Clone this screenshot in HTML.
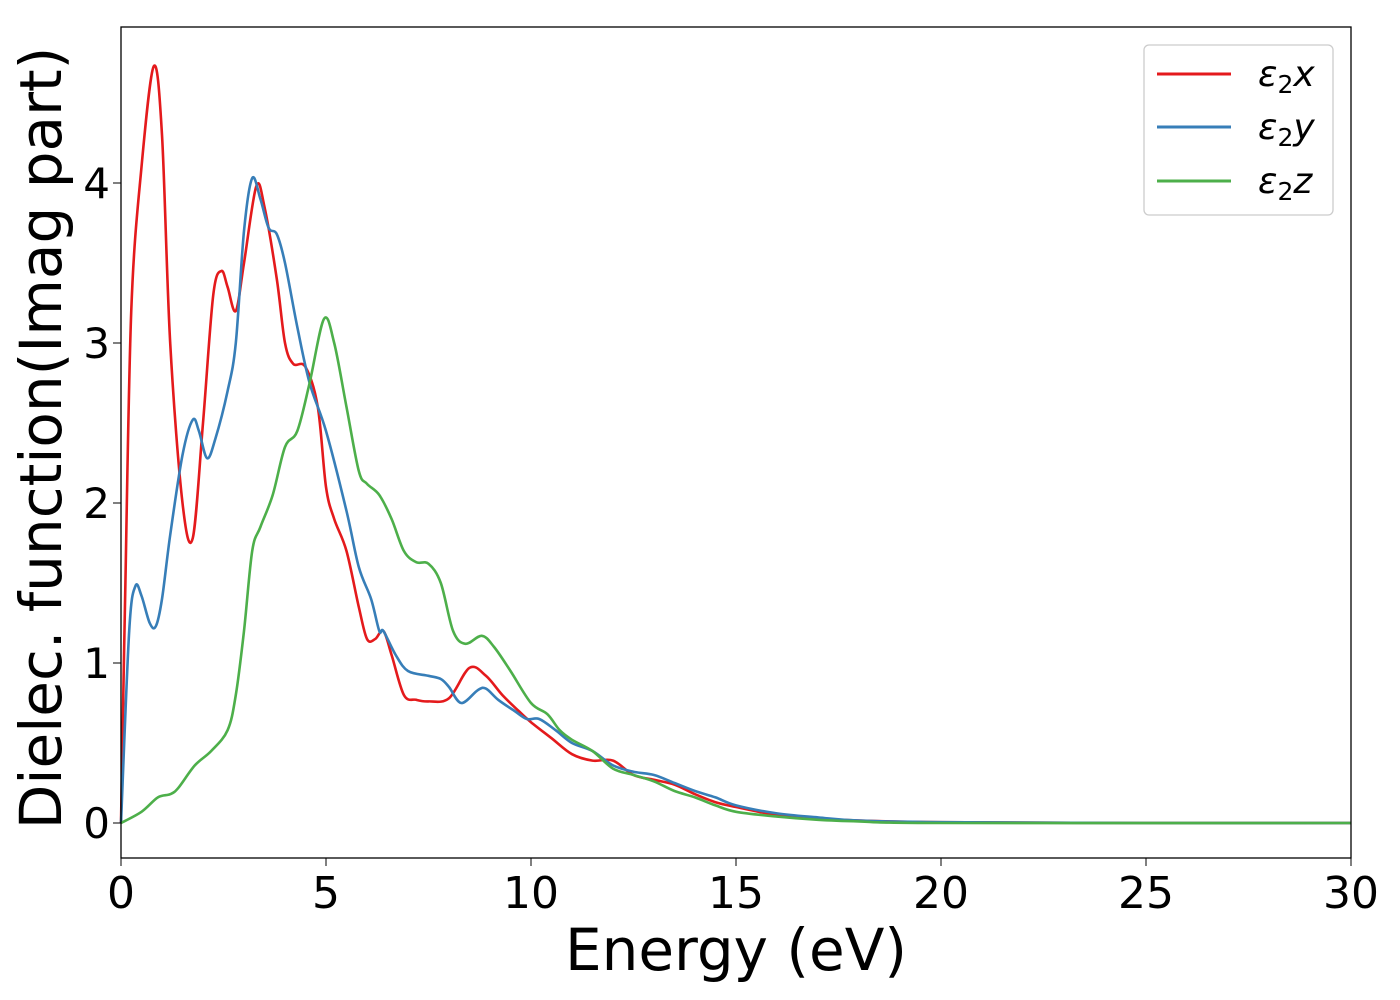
<!DOCTYPE html>
<html><head><meta charset="utf-8"><style>
html,body{margin:0;padding:0;background:#fff;}
svg{display:block;font-family:"DejaVu Sans","Liberation Sans",sans-serif;}
</style></head><body>
<svg id="chart" width="1400" height="1000" viewBox="0 0 1400 1000">
<rect x="0" y="0" width="1400" height="1000" fill="#fff"/>
<g id="series"></g>
<rect x="121" y="27" width="1230" height="831" fill="none" stroke="#000" stroke-width="1.3"/>
<g id="xticks"></g><g id="yticks"></g>
<text x="736" y="970" font-size="58" text-anchor="middle">Energy (eV)</text>
<text transform="translate(61,438) rotate(-90)" font-size="58" text-anchor="middle">Dielec. function(Imag part)</text>
<g>
<rect x="1144" y="45" width="189" height="170" rx="5" fill="#fff" fill-opacity="0.8" stroke="#ccc" stroke-width="1.3"/>
<g><line x1="1157" y1="74" x2="1231" y2="74" stroke="#e41a1c" stroke-width="3"/><text x="1258" y="86" font-size="36" font-style="italic">ε<tspan font-size="25" dy="7" font-style="normal">2</tspan><tspan dy="-7">x</tspan></text></g>
<g><line x1="1157" y1="127" x2="1231" y2="127" stroke="#377eb8" stroke-width="3"/><text x="1258" y="139" font-size="36" font-style="italic">ε<tspan font-size="25" dy="7" font-style="normal">2</tspan><tspan dy="-7">y</tspan></text></g>
<g><line x1="1157" y1="181" x2="1231" y2="181" stroke="#4daf4a" stroke-width="3"/><text x="1258" y="193" font-size="36" font-style="italic">ε<tspan font-size="25" dy="7" font-style="normal">2</tspan><tspan dy="-7">z</tspan></text></g>
</g>
</svg>
<script>
const xTicks=[0,5,10,15,20,25,30];
const yTicks=[0,1,2,3,4];
const seriesX=[[0,0],[0.1,1.4],[0.25,3.2],[0.5,4.1],[0.8,4.73],[1.0,4.3],[1.2,3.0],[1.5,2.0],[1.75,1.78],[2.0,2.5],[2.25,3.3],[2.45,3.45],[2.6,3.35],[2.8,3.2],[3.0,3.5],[3.3,3.98],[3.5,3.85],[3.8,3.4],[4.0,3.0],[4.2,2.87],[4.5,2.85],[4.8,2.6],[5.0,2.1],[5.2,1.9],[5.5,1.7],[5.8,1.35],[6.0,1.15],[6.2,1.15],[6.4,1.2],[6.6,1.05],[6.9,0.8],[7.2,0.77],[7.5,0.76],[8.0,0.78],[8.5,0.97],[8.9,0.92],[9.3,0.8],[9.7,0.7],[10,0.63],[10.5,0.53],[11,0.43],[11.5,0.39],[12,0.39],[12.5,0.3],[13,0.27],[13.5,0.24],[14,0.18],[14.5,0.13],[15,0.1],[16,0.05],[17,0.03],[18,0.015],[20,0.005],[25,0],[30,0]];
const seriesY=[[0,0],[0.2,1.2],[0.35,1.48],[0.5,1.42],[0.7,1.25],[0.85,1.23],[1.0,1.4],[1.2,1.8],[1.5,2.3],[1.75,2.52],[1.9,2.45],[2.1,2.28],[2.3,2.4],[2.6,2.7],[2.8,3.0],[3.0,3.7],[3.2,4.03],[3.4,3.9],[3.6,3.72],[3.8,3.68],[4.0,3.5],[4.3,3.1],[4.6,2.75],[5.0,2.45],[5.5,1.95],[5.8,1.6],[6.1,1.4],[6.3,1.2],[6.4,1.2],[6.7,1.05],[7.0,0.95],[7.5,0.92],[7.8,0.9],[8.0,0.85],[8.3,0.75],[8.7,0.83],[8.9,0.84],[9.2,0.77],[9.6,0.7],[9.9,0.65],[10.2,0.65],[10.6,0.58],[11,0.5],[11.5,0.45],[12,0.36],[12.5,0.32],[13,0.3],[13.5,0.25],[14,0.2],[14.5,0.16],[15,0.11],[16,0.06],[17,0.035],[18,0.015],[20,0.005],[25,0],[30,0]];
const seriesZ=[[0,0],[0.5,0.07],[0.9,0.16],[1.2,0.18],[1.4,0.22],[1.8,0.36],[2.2,0.45],[2.6,0.58],[2.8,0.8],[3.0,1.2],[3.2,1.7],[3.4,1.85],[3.7,2.05],[4.0,2.35],[4.3,2.45],[4.6,2.75],[4.95,3.15],[5.2,3.0],[5.5,2.6],[5.8,2.2],[6.0,2.12],[6.3,2.05],[6.6,1.9],[6.9,1.7],[7.2,1.63],[7.5,1.62],[7.8,1.5],[8.1,1.2],[8.4,1.12],[8.8,1.17],[9.1,1.1],[9.5,0.95],[10,0.75],[10.4,0.68],[10.7,0.58],[11,0.52],[11.5,0.45],[12,0.34],[12.5,0.3],[13,0.26],[13.5,0.2],[14,0.16],[14.5,0.11],[15,0.07],[16,0.04],[17,0.02],[18,0.01],[20,0],[30,0]];
const NS='http://www.w3.org/2000/svg';
function sx(v){return 121+v*41;}
function sy(v){return 823-v*160;}
function pathFor(d){
  const p=d.map(a=>[sx(a[0]),sy(a[1])]);
  let s='M'+p[0][0]+','+p[0][1];
  for(let i=0;i<p.length-1;i++){
    const p0=p[i-1]||p[i],p1=p[i],p2=p[i+1],p3=p[i+2]||p2;
    const c1=[p1[0]+(p2[0]-p0[0])/6,p1[1]+(p2[1]-p0[1])/6];
    const c2=[p2[0]-(p3[0]-p1[0])/6,p2[1]-(p3[1]-p1[1])/6];
    s+=' C'+c1+' '+c2+' '+p2;
  }
  return s;
}
const g=document.getElementById('series');
[[seriesX,'#e41a1c','series-eps2-x'],[seriesY,'#377eb8','series-eps2-y'],[seriesZ,'#4daf4a','series-eps2-z']].forEach(s=>{
  const el=document.createElementNS(NS,'path');
  el.setAttribute('d',pathFor(s[0]));el.setAttribute('fill','none');el.setAttribute('stroke',s[1]);el.setAttribute('stroke-width','2.6');
  
  
  g.appendChild(el);
});
const xt=document.getElementById('xticks');
xTicks.forEach(v=>{
  const l=document.createElementNS(NS,'line');
  l.setAttribute('x1',sx(v));l.setAttribute('x2',sx(v));l.setAttribute('y1',858);l.setAttribute('y2',866);l.setAttribute('stroke','#000');
  
  
  xt.appendChild(l);
  const t=document.createElementNS(NS,'text');
  t.setAttribute('x',sx(v));t.setAttribute('y',908);t.setAttribute('font-size','44');t.setAttribute('text-anchor','middle');t.textContent=v;
  
  
  xt.appendChild(t);
});
const yt=document.getElementById('yticks');
yTicks.forEach(v=>{
  const l=document.createElementNS(NS,'line');
  l.setAttribute('x1',113);l.setAttribute('x2',121);l.setAttribute('y1',sy(v));l.setAttribute('y2',sy(v));l.setAttribute('stroke','#000');
  
  
  yt.appendChild(l);
  const t=document.createElementNS(NS,'text');
  t.setAttribute('x',110);t.setAttribute('y',sy(v)+15);t.setAttribute('font-size','42');t.setAttribute('text-anchor','end');t.textContent=v;
  
  
  yt.appendChild(t);
});
</script>
</body></html>
